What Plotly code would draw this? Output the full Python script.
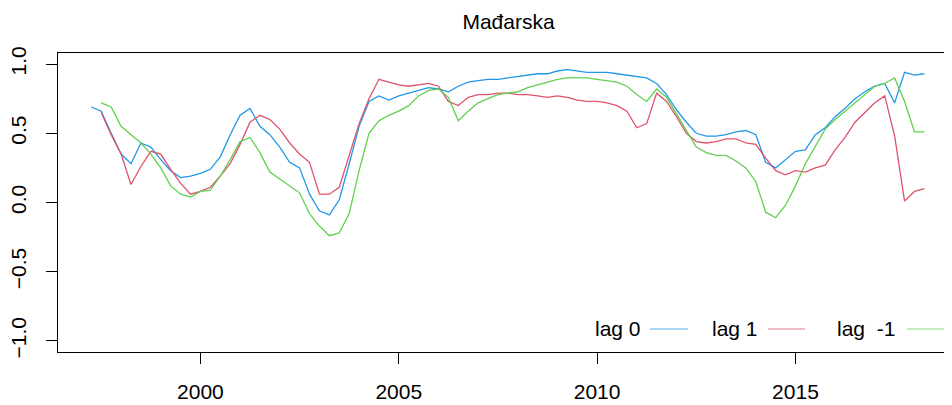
import plotly.graph_objects as go

# quarterly series, first quarter 1997 Q2
start_year = 1997.25
lag0 = [0.69, 0.66, 0.50, 0.35, 0.28, 0.43, 0.40, 0.31, 0.23, 0.18, 0.19, 0.21, 0.24, 0.33, 0.49,
        0.63, 0.68, 0.55, 0.49, 0.40, 0.29, 0.25, 0.06, -0.06, -0.09, 0.02, 0.28, 0.55, 0.73, 0.77,
        0.74, 0.77, 0.79, 0.81, 0.83, 0.82, 0.80, 0.84, 0.87, 0.88, 0.89, 0.89, 0.90, 0.91, 0.92,
        0.93, 0.93, 0.95, 0.96, 0.95, 0.94, 0.94, 0.94, 0.93, 0.92, 0.91, 0.90, 0.86, 0.78, 0.67,
        0.58, 0.50, 0.48, 0.48, 0.49, 0.51, 0.52, 0.49, 0.29, 0.25, 0.31, 0.37, 0.38, 0.49, 0.54,
        0.62, 0.68, 0.75, 0.80, 0.84, 0.86, 0.72, 0.94, 0.92, 0.93]
lag1 = [None, 0.65, 0.49, 0.35, 0.13, 0.26, 0.37, 0.35, 0.24, 0.14, 0.06, 0.08, 0.11, 0.19, 0.28,
        0.42, 0.58, 0.63, 0.60, 0.53, 0.43, 0.35, 0.29, 0.06, 0.06, 0.11, 0.34, 0.57, 0.75, 0.89,
        0.87, 0.85, 0.84, 0.85, 0.86, 0.84, 0.73, 0.70, 0.76, 0.78, 0.78, 0.79, 0.79, 0.78, 0.78,
        0.77, 0.76, 0.77, 0.76, 0.74, 0.73, 0.73, 0.72, 0.70, 0.66, 0.54, 0.57, 0.79, 0.73, 0.62,
        0.50, 0.44, 0.43, 0.44, 0.46, 0.46, 0.43, 0.42, 0.32, 0.23, 0.20, 0.23, 0.22, 0.25, 0.27,
        0.38, 0.47, 0.58, 0.65, 0.72, 0.77, 0.48, 0.01, 0.08, 0.10]
lag_m1 = [None, 0.72, 0.69, 0.55, 0.49, 0.43, 0.35, 0.25, 0.12, 0.06, 0.04, 0.08, 0.09, 0.19, 0.31,
          0.44, 0.47, 0.36, 0.22, 0.17, 0.12, 0.07, -0.08, -0.17, -0.24, -0.22, -0.08, 0.23, 0.50, 0.59,
          0.63, 0.66, 0.70, 0.77, 0.81, 0.82, 0.76, 0.59, 0.66, 0.72, 0.75, 0.78, 0.79, 0.80, 0.83,
          0.85, 0.87, 0.89, 0.90, 0.90, 0.90, 0.89, 0.88, 0.87, 0.84, 0.78, 0.73, 0.82, 0.76, 0.64,
          0.52, 0.40, 0.36, 0.34, 0.34, 0.30, 0.25, 0.15, -0.07, -0.11, -0.02, 0.12, 0.28, 0.40, 0.53,
          0.60, 0.66, 0.72, 0.78, 0.84, 0.86, 0.90, 0.73, 0.51, 0.51]

names = ['lag 0', 'lag 1', 'lag\u00a0 -1']
colors = ['#2297E6', '#DF536B', '#61D04F']
x_ticks = [2000, 2005, 2010, 2015]
y_ticks = [-1.0, -0.5, 0.0, 0.5, 1.0]

t = [start_year + 0.25 * i for i in range(len(lag0))]

# page body has an 8px margin, so the figure is shrunk by that much
OFF = 8
W, H = 952 - OFF, 405 - OFF
L, T, B = 58 - OFF, 53 - OFF, 405 - 352
pw, ph = W - L, H - T - B


def px(sx):
    return (sx - OFF - L) / pw


def py(sy):
    return (H - B - (sy - OFF)) / ph


fig = go.Figure()
for ys, c, n in zip([lag0, lag1, lag_m1], colors, names):
    fig.add_trace(go.Scatter(x=t, y=ys, mode='lines', name=n, line=dict(color=c, width=1.3),
                             connectgaps=False, showlegend=False))

font = dict(family='Liberation Sans, Arial', size=21, color='black')

# legend drawn R-style: label then line sample
leg = [(643, 650, 688), (760, 768, 805), (897, 907, 944)]
for (tx, x0, x1), n, c in zip(leg, names, colors):
    fig.add_annotation(x=px(tx), y=py(328), xref='paper', yref='paper',
                       text=n, showarrow=False, xanchor='right', yanchor='middle', font=font)
    fig.add_shape(type='line', xref='paper', yref='paper', x0=px(x0), x1=px(x1),
                  y0=py(329), y1=py(329), line=dict(color=c, width=1.3), opacity=0.5)

x_lo = 1996.41
x_hi = x_lo + pw / 39.67
fig.update_xaxes(range=[x_lo, x_hi], tickvals=x_ticks, ticks='outside', ticklen=11, tickcolor='black',
                 showline=True, mirror=True, linecolor='black', linewidth=1, showgrid=False, zeroline=False,
                 tickfont=font, ticklabelstandoff=10, automargin=False)
fig.update_yaxes(range=[-1.08, 1.08], tickvals=y_ticks, tickformat='.1f', ticks='outside', ticklen=11,
                 tickcolor='black', showline=True, linecolor='black', linewidth=1, showgrid=False,
                 zeroline=False, tickangle=-90, tickfont=font, ticklabelstandoff=12, automargin=False)
fig.update_layout(width=W, height=H, margin=dict(l=L, r=0, t=T, b=B), plot_bgcolor='white',
                  paper_bgcolor='white', font=font,
                  title=dict(text='Mađarska', x=(508.5 - OFF) / W, xanchor='center', y=1 - (22 - OFF) / H,
                             yanchor='middle', yref='container', font=font, automargin=False))
fig.write_html("out.html")
